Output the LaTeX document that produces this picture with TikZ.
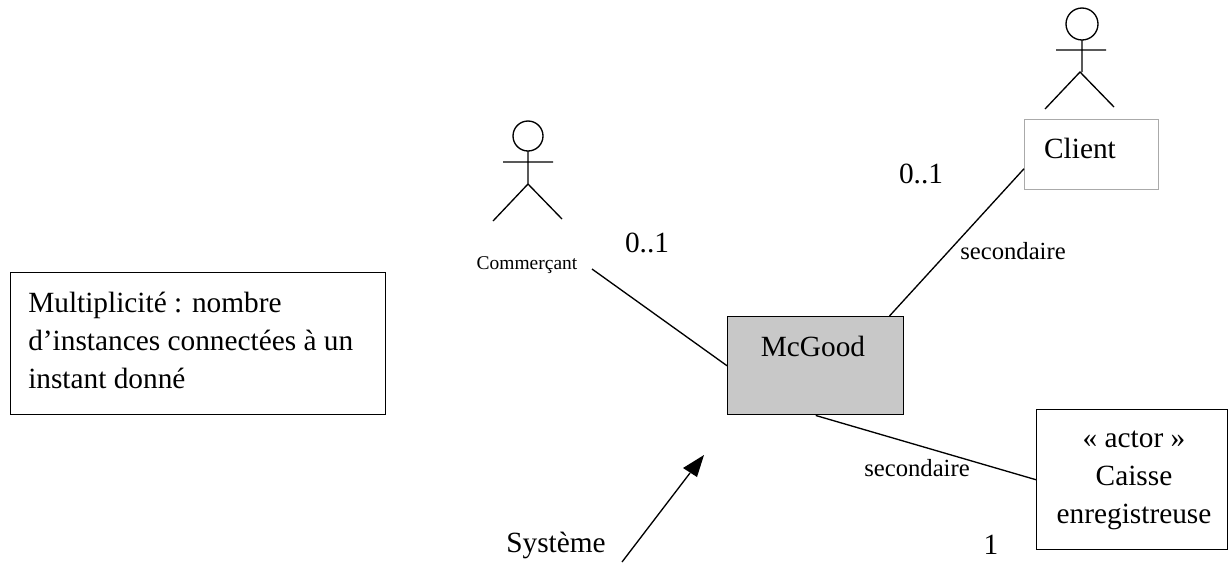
\documentclass[tikz,border=0pt]{standalone}
\usepackage{fontspec}
\setmainfont{Liberation Serif}
\tikzset{
  actorline/.style={line width=1pt},
  umlbox/.style={draw,line width=1.1pt,inner sep=0pt},
  assoc/.style={line width=1pt},
  biglabel/.style={inner sep=0pt,font=\fontsize{22}{28.5}\selectfont},
  seclabel/.style={inner sep=0pt,font=\fontsize{18.5}{22}\selectfont},
  smalllabel/.style={inner sep=0pt,font=\fontsize{14.6}{20}\selectfont},
}
\begin{document}
\begin{tikzpicture}[x=0.75pt,y=0.75pt,yscale=-1,xscale=1]
\useasboundingbox (0,0) rectangle (1231,562);

%Shape: Rectangle [multiplicite]
\node [umlbox,anchor=north west,minimum width=281.25pt,minimum height=106.5pt] (multiplicite) at (10,272) {};
%Shape: Rectangle [mcgood]
\node [umlbox,fill={rgb, 255:red, 200; green, 200; blue, 200 },anchor=north west,minimum width=132pt,minimum height=73.5pt] (mcgood) at (727,316) {};
%Shape: Rectangle [client]
\node [draw={rgb, 255:red, 170; green, 170; blue, 170 },line width=0.6pt,inner sep=0pt,anchor=north west,minimum width=100.5pt,minimum height=52.5pt] (client) at (1024,119) {};
%Shape: Rectangle [caisse]
\node [umlbox,anchor=north west,minimum width=143.25pt,minimum height=105pt] (caisse) at (1036,409) {};

% Text Node
\node [biglabel,align=left,anchor=west] (multiplicitelabel) at (28,340) {Multiplicité : nombre\\d'instances connectées à un\\instant donné};
\node [biglabel,align=center] (caisselabel) at (1134,480) {« actor »\\Caisse\\enregistreuse};
\node [biglabel] (mcgoodlabel) at (813,346) {McGood};
\node [biglabel] (clientlabel) at (1080,148) {Client};
\node [smalllabel] (commercant) at (527,265) {Commerçant};
\node [biglabel] (multcommercant) at (647,243) {0..1};
\node [biglabel] (multclient) at (921,174) {0..1};
\node [seclabel] (secclient) at (1013,251) {secondaire};
\node [seclabel] (seccaisse) at (917,468) {secondaire};
\node [biglabel] (multcaisse) at (991,545) {1};
\node [biglabel] (systeme) at (556,545) {Système};

%Shape: Circle
\draw [actorline] (528,136) circle (15);
%Straight Lines [commercant actor]
\draw [actorline] (528,151) -- (528,184) (503,162) -- (553,162) (493,221) -- (528,184) -- (562,219);
%Shape: Circle
\draw [actorline] (1082,24) circle (16);
%Straight Lines [client actor]
\draw [actorline] (1082,40) -- (1082,72) (1056,50) -- (1106,50) (1045,109) -- (1080,72) -- (1114,107);

%Straight Lines
\coordinate (commercantend) at (592,269);
\draw [assoc] (commercantend) -- (mcgood.west);
\draw [assoc] (mcgood.34) -- (client.192);
\draw [assoc] (mcgood.south) -- (caisse.west);
\coordinate (systemeend) at (622,562);
\coordinate (systemetip) at (704,455);
\draw [assoc] (systemeend) -- (690,473);
\fill (systemetip) -- (683,468) -- (697,477) -- cycle;
\end{tikzpicture}
\end{document}
